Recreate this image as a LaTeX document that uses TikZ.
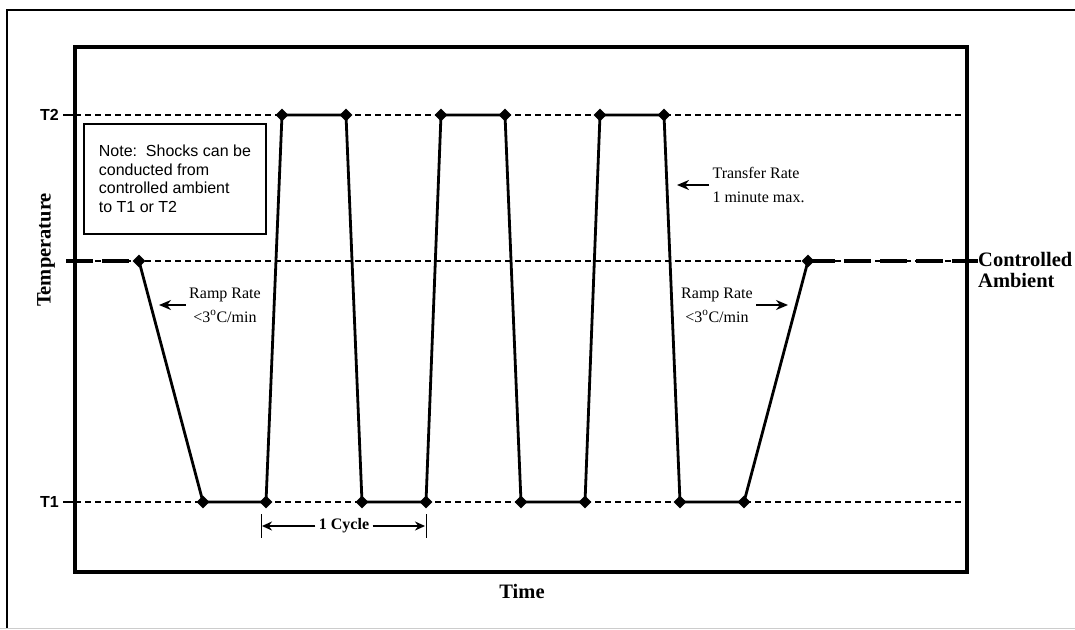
\documentclass[tikz,border=0pt]{standalone}
\usepackage{fontspec}
\setmainfont{Liberation Serif}
\setsansfont{Liberation Sans}
\usetikzlibrary{shapes.geometric,arrows.meta}

\begin{document}
\begin{tikzpicture}[x=1pt, y=-1pt,
    vertex/.style={diamond, fill=black, inner sep=0pt, minimum size=13pt},
    guide/.style={line width=1.4pt, dash pattern=on 6pt off 4pt},
    trace/.style={line width=2.8pt, line join=miter},
    ambline/.style={line width=3.8pt, dash pattern=on 27pt off 9pt},
    rate/.style={font=\fontsize{16}{24}\selectfont, align=center},
    axislabel/.style={font=\fontsize{20.5}{21}\selectfont\bfseries},
    level/.style={font=\fontsize{16}{17}\selectfont\sffamily\bfseries, anchor=east, inner sep=1pt},
    pointer/.style={-{Stealth[length=12pt, width=10pt]}, line width=2.8pt}
  ]
  \useasboundingbox (0,0) rectangle (1075,629);

  % page frame
  \draw[line width=2pt] (1075,10) -- (7,10) -- (7,629);
  \draw[black!20, line width=1pt] (0,628) -- (1075,628);

  % chart frame
  \draw[line width=4pt] (75,47) rectangle (967,572);

  % levels
  \draw[guide] (75,115) -- (967,115);
  \draw[guide] (75,261) -- (967,261);
  \draw[guide] (75,502) -- (967,502);
  \draw[line width=2pt] (63,115) -- (77,115);
  \draw[line width=2pt] (63,502) -- (77,502);
  \node[level] (t2) at (60,115) {T2};
  \node[level] (t1) at (60,502) {T1};

  % temperature profile
  \foreach \n/\x/\y in {1/139/261, 2/203/502, 3/266/502, 4/282/115, 5/346/115,
      6/362/502, 7/426/502, 8/441/115, 9/505/115, 10/521/502, 11/585/502,
      12/600/115, 13/664/115, 14/680/502, 15/744/502, 16/808/261}
    \coordinate (p\n) at (\x,\y);
  \coordinate (ambL) at (66,261);
  \coordinate (ambR) at (978,261);
  \draw[ambline] (ambL) -- (p1);
  \draw[ambline] (p16) -- (ambR);
  \draw[trace] (p1) -- (p2) -- (p3) -- (p4) -- (p5) -- (p6) -- (p7) -- (p8)
    -- (p9) -- (p10) -- (p11) -- (p12) -- (p13) -- (p14) -- (p15) -- (p16);
  \foreach \n in {1,...,16}
    \node[vertex] (m\n) at (p\n) {};

  % note
  \node[draw, line width=1.8pt, anchor=north west, minimum width=182pt,
    minimum height=110pt, inner xsep=14pt, align=left,
    font=\fontsize{16}{18.5}\selectfont\sffamily] (note) at (83,123)
    {Note:\ \ Shocks can be\hspace{8pt}\\conducted from\\controlled ambient\\to T1 or T2};

  % rates
  \node[rate] (rampL) at (225,305) {Ramp Rate\\<3\textsuperscript{o}C/min};
  \node[rate] (rampR) at (717,305) {Ramp Rate\\<3\textsuperscript{o}C/min};
  \node[rate, align=left, anchor=west] (transfer) at (709,185) {Transfer Rate\\1 minute max.};
  \coordinate (rampLtip) at (159,305);
  \coordinate (rampRtip) at (788,305);
  \coordinate (transfertip) at (677,183);
  \draw[pointer] (rampL.west) -- (rampL.west -| rampLtip);
  \draw[pointer] (rampR.east) -- (rampR.east -| rampRtip);
  \draw[pointer] (transfer.west) -- (transfer.west -| transfertip);

  % cycle
  \draw[line width=0.8pt] (261,514) -- (261,538);
  \draw[line width=0.8pt] (426,514) -- (426,538);
  \coordinate (cycL) at (262,526);
  \coordinate (cycR) at (425,526);
  \node[font=\fontsize{16}{16}\selectfont\bfseries] (cycle) at (344,526) {1 Cycle};
  \draw[-{Stealth[length=10pt, width=9pt]}, line width=2.4pt] (cycle.west) -- (cycL);
  \draw[-{Stealth[length=10pt, width=9pt]}, line width=2.4pt] (cycle.east) -- (cycR);

  % axis labels
  \node[axislabel, rotate=90] (temp) at (46,250) {Temperature};
  \node[axislabel] (time) at (522,591) {Time};
  \node[axislabel, align=left, anchor=west, inner sep=1pt] (ambient) at (977,270) {Controlled\\Ambient};
\end{tikzpicture}
\end{document}
